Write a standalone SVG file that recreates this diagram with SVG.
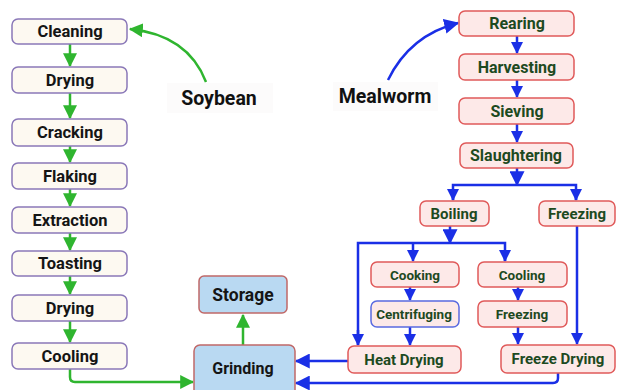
<svg xmlns="http://www.w3.org/2000/svg" width="617" height="390" viewBox="0 0 617 390">
<defs>
<style>
.soy rect{fill:#fdf9f1;stroke:#8a78b8;stroke-width:1.5}
.soy text{font-family:Roboto,"Liberation Sans",sans-serif;font-weight:bold;font-size:16.5px;fill:#151515;text-anchor:middle;dominant-baseline:central}
.mw rect{fill:#fde9e8;stroke:#e05a5a;stroke-width:1.5}
.mw text{font-family:Roboto,"Liberation Sans",sans-serif;font-weight:bold;font-size:15px;fill:#1d4a1f;text-anchor:middle;dominant-baseline:central}
.mw text.l{font-size:16px}
.mw text.s{font-size:13.5px}
.blu rect{fill:#b9d9f2;stroke:#c06868;stroke-width:1.5}
.blu text{font-family:Roboto,"Liberation Sans",sans-serif;font-weight:bold;font-size:16px;fill:#151515;text-anchor:middle;dominant-baseline:central}
.lbl text{font-family:Roboto,"Liberation Sans",sans-serif;font-weight:bold;font-size:19.5px;fill:#111;text-anchor:middle;dominant-baseline:central}
.g{stroke:#2fb52f;stroke-width:2.5;fill:none}
.b{stroke:#1a2fe6;stroke-width:2.5;fill:none}
</style>
<marker id="ag" markerUnits="userSpaceOnUse" markerWidth="14" markerHeight="14" refX="11" refY="6" orient="auto" viewBox="0 0 12 12"><path d="M0,0 L12,6 L0,12 z" fill="#2fb52f"/></marker>
<marker id="ab" markerUnits="userSpaceOnUse" markerWidth="12" markerHeight="12" refX="11" refY="6" orient="auto" viewBox="0 0 12 12"><path d="M0,0 L12,6 L0,12 z" fill="#1a2fe6"/></marker>
<marker id="abL" markerUnits="userSpaceOnUse" markerWidth="15" markerHeight="15" refX="11" refY="6" orient="auto" viewBox="0 0 12 12"><path d="M0,0 L12,6 L0,12 z" fill="#1a2fe6"/></marker>
</defs>
<rect width="617" height="390" fill="#ffffff"/>

<g id="labels" class="lbl">
<g id="soybean"><rect x="167" y="83" width="106" height="30" fill="#fcfbfb"/><text x="219" y="98">Soybean</text></g>
<g id="mealworm"><rect x="333" y="82" width="105" height="29" fill="#fcfbfb"/><text x="385" y="96">Mealworm</text></g>
</g>

<g id="connectors">
<path class="g" d="M206,82 Q188,35 130,29" marker-end="url(#ag)"/>
<path class="g" d="M70,44 V66" marker-end="url(#ag)"/>
<path class="g" d="M70,93 V118" marker-end="url(#ag)"/>
<path class="g" d="M70,146 V162" marker-end="url(#ag)"/>
<path class="g" d="M70,189 V206" marker-end="url(#ag)"/>
<path class="g" d="M70,233 V250" marker-end="url(#ag)"/>
<path class="g" d="M70,276 V294" marker-end="url(#ag)"/>
<path class="g" d="M70,321 V342" marker-end="url(#ag)"/>
<path class="g" d="M70,369 V377 Q70,382 75,382 H193" marker-end="url(#ag)"/>
<path class="g" d="M243,345 V315" marker-end="url(#ag)"/>

<path class="b" d="M388,80 Q410,35 458,23" marker-end="url(#abL)"/>
<path class="b" d="M517,36 V53" marker-end="url(#ab)"/>
<path class="b" d="M517,80 V97" marker-end="url(#ab)"/>
<path class="b" d="M517,124 V142" marker-end="url(#ab)"/>
<path class="b" d="M517,168 V185" marker-end="url(#abL)"/>
<path class="b" d="M453,200 V185 H576 V200"/>
<path class="b" d="M453,190 V200" marker-end="url(#ab)"/>
<path class="b" d="M576,190 V200" marker-end="url(#ab)"/>
<path class="b" d="M450,226 V243" marker-end="url(#abL)"/>
<path class="b" d="M358,345 V243 H505 V261"/>
<path class="b" d="M358,330 V345" marker-end="url(#ab)"/>
<path class="b" d="M413,243 V261" marker-end="url(#ab)"/>
<path class="b" d="M505,250 V261" marker-end="url(#ab)"/>
<path class="b" d="M410,287 V300" marker-end="url(#ab)"/>
<path class="b" d="M410,327 V345" marker-end="url(#ab)"/>
<path class="b" d="M518,287 V300" marker-end="url(#ab)"/>
<path class="b" d="M518,327 V344" marker-end="url(#ab)"/>
<path class="b" d="M577,226 V344" marker-end="url(#ab)"/>
<path class="b" d="M348,361 H296" marker-end="url(#abL)"/>
<path class="b" d="M558,373 V378 Q558,383 553,383 H296" marker-end="url(#abL)"/>
</g>

<g id="soy-nodes" class="soy">
<g id="cleaning"><rect x="12" y="19" width="115" height="25" rx="6"/><text x="70" y="31.5">Cleaning</text></g>
<g id="drying1"><rect x="12" y="67" width="115" height="26" rx="6"/><text x="70" y="80">Drying</text></g>
<g id="cracking"><rect x="12" y="119" width="115" height="27" rx="6"/><text x="70" y="132.5">Cracking</text></g>
<g id="flaking"><rect x="12" y="163" width="115" height="26" rx="6"/><text x="70" y="176">Flaking</text></g>
<g id="extraction"><rect x="12" y="207" width="115" height="26" rx="6"/><text x="70" y="220">Extraction</text></g>
<g id="toasting"><rect x="12" y="251" width="115" height="25" rx="6"/><text x="70" y="263.5">Toasting</text></g>
<g id="drying2"><rect x="12" y="295" width="115" height="26" rx="6"/><text x="70" y="308">Drying</text></g>
<g id="cooling1"><rect x="12" y="343" width="115" height="26" rx="6"/><text x="70" y="356">Cooling</text></g>
</g>

<g id="out-nodes" class="blu">
<g id="storage"><rect x="199" y="276" width="88" height="37" rx="5"/><text x="243" y="294.5" style="font-size:17.5px">Storage</text></g>
<g id="grinding"><rect x="194" y="345" width="101" height="52" rx="6"/><text x="243" y="368">Grinding</text></g>
</g>

<g id="mw-nodes" class="mw">
<g id="rearing"><rect x="459" y="11" width="115" height="25" rx="6"/><text class="l" x="517" y="23.5">Rearing</text></g>
<g id="harvesting"><rect x="459" y="54" width="115" height="26" rx="6"/><text class="l" x="517" y="67">Harvesting</text></g>
<g id="sieving"><rect x="459" y="98" width="115" height="26" rx="6"/><text class="l" x="517" y="111">Sieving</text></g>
<g id="slaughtering"><rect x="460" y="143" width="113" height="25" rx="6"/><text class="l" x="516" y="155.5">Slaughtering</text></g>
<g id="boiling"><rect x="420" y="201" width="69" height="25" rx="6"/><text x="454" y="213.5">Boiling</text></g>
<g id="freezing1"><rect x="539" y="201" width="76" height="25" rx="6"/><text x="577" y="213.5">Freezing</text></g>
<g id="cooking"><rect x="371" y="262" width="88" height="25" rx="6"/><text class="s" x="415" y="274.5">Cooking</text></g>
<g id="cooling2"><rect x="478" y="262" width="89" height="25" rx="6"/><text class="s" x="522" y="274.5">Cooling</text></g>
<g id="centrifuging"><rect x="371" y="301" width="88" height="26" rx="6" style="stroke:#5a6ae0"/><text class="s" x="414" y="314">Centrifuging</text></g>
<g id="freezing2"><rect x="478" y="301" width="89" height="26" rx="6"/><text class="s" x="522" y="314">Freezing</text></g>
<g id="heatdrying"><rect x="348" y="346" width="113" height="27" rx="6"/><text x="404" y="359.5">Heat Drying</text></g>
<g id="freezedrying"><rect x="501" y="345" width="114" height="28" rx="6"/><text x="558" y="359">Freeze Drying</text></g>
</g>
</svg>
